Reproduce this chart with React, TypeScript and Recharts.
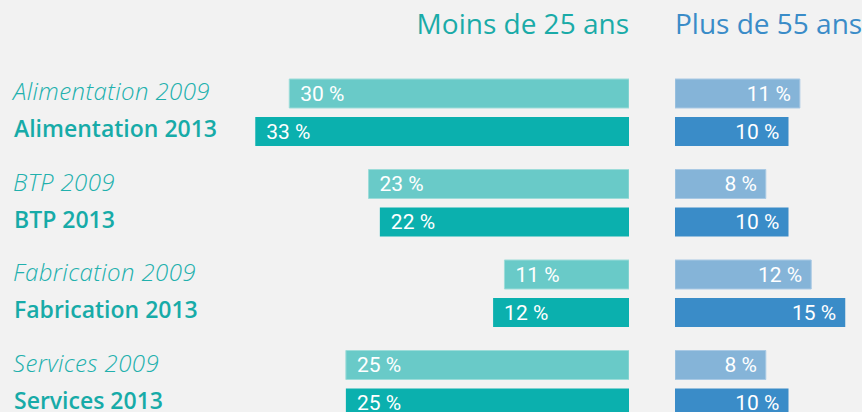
import React from 'react';
import { BarChart, Bar, XAxis, YAxis, LabelList } from 'recharts';

// Part des salariés par âge et par secteur
const sectors = ['Alimentation', 'BTP', 'Fabrication', 'Services'];
const years = ['2009', '2013'];
const under25_2009 = [30, 23, 11, 25];
const under25_2013 = [33, 22, 12, 25];
const over55_2009 = [11, 8, 12, 8];
const over55_2013 = [10, 10, 15, 10];

const chartData = sectors.map((sector, i) => ({
  sector,
  u2009: under25_2009[i],
  u2013: under25_2013[i],
  o2009: over55_2009[i],
  o2013: over55_2013[i],
}));

const COLORS = {
  bg: '#f2f2f2',
  teal: '#1aaba8',
  tealLight: '#69cac8',
  tealDark: '#0bb0ae',
  blue: '#3a8cc8',
  blueLight: '#85b4d8',
  blueDark: '#3a8cc8',
};

const MARGIN = { top: 67, right: 0, bottom: 11, left: 0 };
const HEIGHT = 440;
const LABEL_FONT = 'Roboto, sans-serif';
const TEXT_FONT = '"Open Sans", sans-serif';

const SectorTick = (props: any) => {
  const { y, payload } = props;
  return (
    <g>
      <text
        x={13}
        y={y - 19 + 7}
        fill="#21b0ad"
        fontFamily={TEXT_FONT}
        fontStyle="italic"
        fontWeight={300}
        fontSize={24}
        letterSpacing={0.4}
        textAnchor="start"
      >
        {`${payload.value} ${years[0]}`}
      </text>
      <text
        x={14}
        y={y + 19 + 6}
        fill="#17aba8"
        fontFamily={TEXT_FONT}
        fontWeight={600}
        fontSize={23}
        textAnchor="start"
      >
        {`${payload.value} ${years[1]}`}
      </text>
    </g>
  );
};

const leftLabel = (props: any) => {
  const { x, y, width, height, value } = props;
  const left = Math.min(x, x + width);
  return (
    <text
      x={left + 11}
      y={y + height / 2 + 7}
      fill="#fff"
      fontFamily={LABEL_FONT}
      fontSize={21}
      textAnchor="start"
    >
      {`${value} %`}
    </text>
  );
};

const rightLabel = (props: any) => {
  const { x, y, width, height, value } = props;
  const right = Math.max(x, x + width);
  return (
    <text
      x={right - 9}
      y={y + height / 2 + 7}
      fill="#fff"
      fontFamily={LABEL_FONT}
      fontSize={21}
      textAnchor="end"
    >
      {`${value} %`}
    </text>
  );
};

const App: React.FC = () => {
  return (
    <div
      style={{
        position: 'absolute',
        left: 0,
        top: 0,
        width: 862,
        height: 412,
        overflow: 'hidden',
        background: COLORS.bg,
      }}
    >
      <div
        style={{
          position: 'absolute',
          right: 862 - 629,
          top: 4,
          color: COLORS.teal,
          fontFamily: TEXT_FONT,
          fontSize: 28,
          whiteSpace: 'nowrap',
        }}
      >
        Moins de 25 ans
      </div>
      <div
        style={{
          position: 'absolute',
          left: 675,
          top: 4,
          color: COLORS.blue,
          fontFamily: TEXT_FONT,
          fontSize: 28,
          whiteSpace: 'nowrap',
        }}
      >
        Plus de 55 ans
      </div>

      <div style={{ position: 'absolute', left: 0, top: 0 }}>
        <BarChart
          width={629}
          height={HEIGHT}
          data={chartData}
          layout="vertical"
          margin={MARGIN}
          barSize={29}
          barGap={9}
        >
          <XAxis type="number" domain={[0, 40]} reversed hide />
          <YAxis
            type="category"
            dataKey="sector"
            width={176}
            axisLine={false}
            tickLine={false}
            tick={<SectorTick />}
          />
          <Bar dataKey="u2009" fill={COLORS.tealLight} stroke="#9ddcd9" strokeWidth={1} isAnimationActive={false}>
            <LabelList dataKey="u2009" content={leftLabel} />
          </Bar>
          <Bar dataKey="u2013" fill={COLORS.tealDark} isAnimationActive={false}>
            <LabelList dataKey="u2013" content={leftLabel} />
          </Bar>
        </BarChart>
      </div>

      <div style={{ position: 'absolute', left: 675, top: 0 }}>
        <BarChart
          width={227}
          height={HEIGHT}
          data={chartData}
          layout="vertical"
          margin={MARGIN}
          barSize={29}
          barGap={9}
        >
          <XAxis type="number" domain={[0, 20]} hide />
          <YAxis type="category" dataKey="sector" hide />
          <Bar dataKey="o2009" fill={COLORS.blueLight} stroke="#a9c9e4" strokeWidth={1} isAnimationActive={false}>
            <LabelList dataKey="o2009" content={rightLabel} />
          </Bar>
          <Bar dataKey="o2013" fill={COLORS.blueDark} isAnimationActive={false}>
            <LabelList dataKey="o2013" content={rightLabel} />
          </Bar>
        </BarChart>
      </div>
    </div>
  );
};

export default App;
